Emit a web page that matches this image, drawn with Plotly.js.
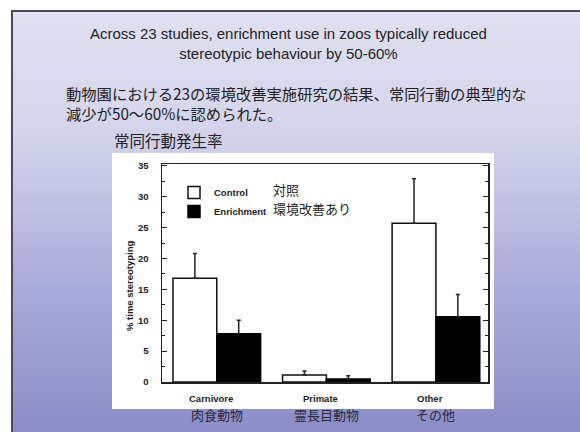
<!DOCTYPE html>
<html>
<head>
<meta charset="utf-8">
<script src="https://cdn.plot.ly/plotly-3.0.1.min.js"></script>
<style>
  html, body { margin: 0; padding: 0; background: #ffffff; }
  #wrap { position: relative; width: 580px; height: 432px; overflow: hidden; background: #ffffff; }
  #slide { position: absolute; left: 11px; top: 10px; width: 569px; height: 422px;
    border-left: 2px solid #4a4a52; border-top: 2px solid #4a4a52; box-sizing: border-box;
    background: linear-gradient(to bottom, #e0e0f1 0%, #d6d6ed 25%, #c9cae7 38%, #a9abd9 65%, #8b8dc8 100%); }
  #panel { position: absolute; left: 112px; top: 153px; width: 382px; height: 256px; background: #ffffff; }
  #chart { position: absolute; left: 0; top: 0; width: 580px; height: 432px; }
</style>
</head>
<body>
<div id="wrap">
  <div id="slide"></div>
  <div id="panel"></div>
  <div id="chart"></div>
</div>
<script>
// ---- data ----
var categories = ["Carnivore", "Primate", "Other"];
var categoriesJa = ["肉食動物", "霊長目動物", "その他"];
var controlValues = [16.8, 1.15, 25.7];
var controlErrors = [4.0, 0.65, 7.2];
var enrichValues = [7.8, 0.5, 10.55];
var enrichErrors = [2.2, 0.5, 3.6];
var seriesNames = ["Control", "Enrichment"];
var seriesNamesJa = ["対照", "環境改善あり"];
var titleEn = "Across 23 studies, enrichment use in zoos typically reduced<br>stereotypic behaviour by 50-60%";
var titleJa = "動物園における23の環境改善実施研究の結果、常同行動の典型的な<br>減少が50～60%に認められた。";
var chartTitleJa = "常同行動発生率";
var yTitle = "% time stereotyping";

// ---- helpers: pixel -> paper coordinates ----
var L = 162, R = 92, T = 164, B = 50, W = 580, H = 432;
function px(x) { return (x - L) / (W - L - R); }
function py(y) { return (H - B - y) / (H - T - B); }

var enFont = "Arial, 'Liberation Sans', sans-serif";
var jaFont = "'Noto Sans CJK JP', 'Noto Sans CJK SC', sans-serif";

var traces = [
  {
    type: "bar", name: seriesNames[0], x: categories, y: controlValues,
    marker: { color: "#ffffff", line: { color: "#111111", width: 1.5 } },
    error_y: { type: "data", symmetric: false, array: controlErrors,
      arrayminus: controlErrors.map(function () { return 0; }),
      color: "#222222", thickness: 1.5, width: 2 }
  },
  {
    type: "bar", name: seriesNames[1], x: categories, y: enrichValues,
    marker: { color: "#000000", line: { color: "#000000", width: 1.5 } },
    error_y: { type: "data", symmetric: false, array: enrichErrors,
      arrayminus: enrichErrors.map(function () { return 0; }),
      color: "#222222", thickness: 1.5, width: 2 }
  }
];

var annotations = [
  { text: titleEn, xref: "paper", yref: "paper", x: px(288), y: py(43), xanchor: "center", yanchor: "middle",
    showarrow: false, align: "center", font: { family: enFont, size: 15, color: "#222222" } },
  { text: titleJa, xref: "paper", yref: "paper", x: px(64), y: py(102.5), xanchor: "left", yanchor: "middle",
    showarrow: false, align: "left", font: { family: jaFont, size: 15.3, color: "#222222" } },
  { text: chartTitleJa, xref: "paper", yref: "paper", x: px(112), y: py(140), xanchor: "left", yanchor: "middle",
    showarrow: false, font: { family: jaFont, size: 15.5, color: "#222222" } },
  { text: "<b>" + yTitle + "</b>", xref: "paper", yref: "paper", x: px(129), y: py(286), xanchor: "center", yanchor: "middle",
    textangle: -90, showarrow: false, font: { family: enFont, size: 9.5, color: "#222222" } }
];
var legendJaY = [189.5, 208.5];
seriesNamesJa.forEach(function (t, i) {
  annotations.push({ text: t, xref: "paper", yref: "paper", x: px(272), y: py(legendJaY[i]),
    xanchor: "left", yanchor: "middle", showarrow: false, borderpad: 0,
    font: { family: jaFont, size: 13, color: "#222222" } });
});
categories.forEach(function (c, i) {
  annotations.push({ text: "<b>" + c + "</b>", xref: "x", yref: "paper", x: c, y: py(398), xshift: -6,
    xanchor: "center", yanchor: "middle", showarrow: false,
    font: { family: enFont, size: 9.5, color: "#222222" } });
  annotations.push({ text: categoriesJa[i], xref: "x", yref: "paper", x: c, y: py(414),
    xanchor: "center", yanchor: "middle", showarrow: false,
    font: { family: jaFont, size: 13, color: "#2a2a3a" } });
});

var layout = {
  width: W, height: H,
  margin: { l: L, r: R, t: T, b: B, pad: 0 },
  paper_bgcolor: "rgba(0,0,0,0)",
  plot_bgcolor: "#ffffff",
  barmode: "group", bargap: 0.2, bargroupgap: 0,
  showlegend: true,
  legend: { x: px(174), y: py(178), xanchor: "left", yanchor: "top", bgcolor: "rgba(0,0,0,0)",
    font: { family: enFont, size: 9.5, color: "#222222", weight: "bold" }, traceorder: "normal" },
  xaxis: {
    type: "category", range: [-0.5, 2.475], showticklabels: false, ticks: "",
    showline: true, linecolor: "#222222", linewidth: 1.5, mirror: true,
    showgrid: false, zeroline: false, fixedrange: true
  },
  yaxis: {
    range: [0, 35.3], dtick: 5, tick0: 0, ticks: "inside", ticklen: 5, tickwidth: 1.2, tickcolor: "#222222",
    minor: { dtick: 2.5, ticks: "inside", ticklen: 3, tickwidth: 1, tickcolor: "#222222", showgrid: false },
    showline: true, linecolor: "#222222", linewidth: 1.5, mirror: "ticks",
    showgrid: false, zeroline: false, ticklabelstandoff: 10,
    tickfont: { family: enFont, size: 9.5, color: "#222222", weight: "bold" }, fixedrange: true
  },
  annotations: annotations
};

Plotly.newPlot("chart", traces, layout, { displayModeBar: false, staticPlot: true });
</script>
</body>
</html>
